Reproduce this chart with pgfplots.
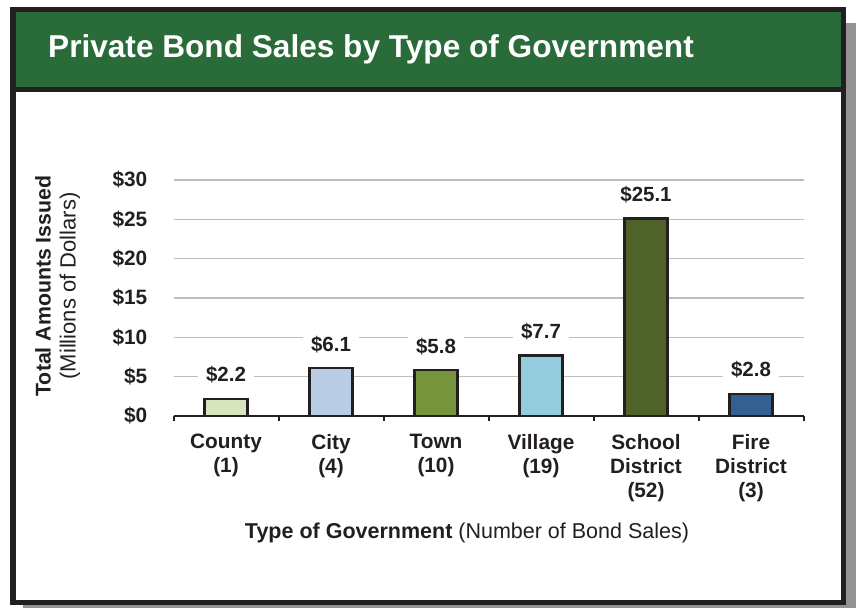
\documentclass[border=0pt]{standalone}
\usepackage{pgfplots}
\pgfplotsset{compat=1.18}
\usepackage{fontspec}
\setmainfont{Liberation Sans}
\definecolor{hdr}{HTML}{2A6B3A}
\definecolor{frm}{HTML}{231F20}
\definecolor{shd}{HTML}{939393}
\definecolor{gridc}{HTML}{BDBDBD}
\definecolor{cCounty}{HTML}{D7E4BD}
\definecolor{cCity}{HTML}{B9CDE5}
\definecolor{cTown}{HTML}{77933C}
\definecolor{cVillage}{HTML}{93CDDD}
\definecolor{cSchool}{HTML}{4F6228}
\definecolor{cFire}{HTML}{365F91}
\begin{document}
\begin{tikzpicture}[x=1pt,y=1pt]
\path[use as bounding box] (0,0) rectangle (856,608);
\fill[shd] (23,0) rectangle (856,585);
\fill[white] (12.75,5.75) rectangle (843.25,598.25);
\fill[hdr] (15.5,521) rectangle (840.5,595.5);
\fill[frm] (15.5,516) rectangle (840.5,521);
\draw[frm, line width=5.5pt] (12.75,5.75) rectangle (843.25,598.25);
\node[anchor=base west, inner sep=0pt, text=white, font=\fontsize{31.6}{36}\selectfont\bfseries] at (48,550.3) {Private Bond Sales by Type of Government};
\node[rotate=90, anchor=base, inner sep=0pt, font=\fontsize{21.3}{24}\selectfont\bfseries, text=frm] at (50.5,322) {Total Amounts Issued};
\node[rotate=90, anchor=base, inner sep=0pt, font=\fontsize{22}{24}\selectfont, text=frm] at (75.5,322) {(Millions of Dollars)};
\node[anchor=base, inner sep=0pt, font=\fontsize{21.5}{24}\selectfont, text=frm] at (467,70) {\textbf{Type of Government} (Number of Bond Sales)};
\begin{axis}[
  at={(173.5pt,192pt)}, anchor=south west,
  scale only axis, width=630pt, height=236pt,
  xmin=-0.5, xmax=5.5, ymin=0, ymax=30,
  ybar, bar width=43pt,
  axis x line*=bottom, axis y line*=left,
  y axis line style={draw=none},
  x axis line style={line width=2.5pt, frm},
  ymajorgrids, grid style={gridc, line width=1.5pt},
  ytick={0,5,10,15,20,25,30},
  yticklabels={\$0,\$5,\$10,\$15,\$20,\$25,\$30},
  xtick={0,1,2,3,4,5},
  xticklabels={{County\\(1)},{City\\(4)},{Town\\(10)},{Village\\(19)},{School\\District\\(52)},{Fire\\District\\(3)}},
  major tick length=0pt,
  extra x ticks={-0.5,0.5,1.5,2.5,3.5,4.5,5.5},
  extra x tick labels={},
  extra x tick style={major tick length=5pt, tick align=outside, tick style={line width=2pt, frm}},
  ticklabel style={font=\fontsize{20.8}{24}\selectfont\bfseries, text=frm},
  yticklabel style={inner sep=0pt, anchor=east, xshift=-26pt},
  xticklabel style={align=center, inner sep=0pt, anchor=north, yshift=-18pt},
  nodes near coords, point meta=explicit symbolic,
  nodes near coords style={font=\fontsize{20.5}{24}\selectfont\bfseries, text=frm, fill=white, inner xsep=8pt, inner ysep=2pt, anchor=base, yshift=17pt},
  clip=false,
]
\addplot[bar shift=0pt, fill=cCounty, draw=frm, line width=2.2pt] coordinates {(0,2.2) [\$2.2]};
\addplot[bar shift=0pt, fill=cCity, draw=frm, line width=2.2pt] coordinates {(1,6.1) [\$6.1]};
\addplot[bar shift=0pt, fill=cTown, draw=frm, line width=2.2pt] coordinates {(2,5.8) [\$5.8]};
\addplot[bar shift=0pt, fill=cVillage, draw=frm, line width=2.2pt] coordinates {(3,7.7) [\$7.7]};
\addplot[bar shift=0pt, fill=cSchool, draw=frm, line width=2.2pt] coordinates {(4,25.1) [\$25.1]};
\addplot[bar shift=0pt, fill=cFire, draw=frm, line width=2.2pt] coordinates {(5,2.8) [\$2.8]};
\end{axis}
\end{tikzpicture}
\end{document}
